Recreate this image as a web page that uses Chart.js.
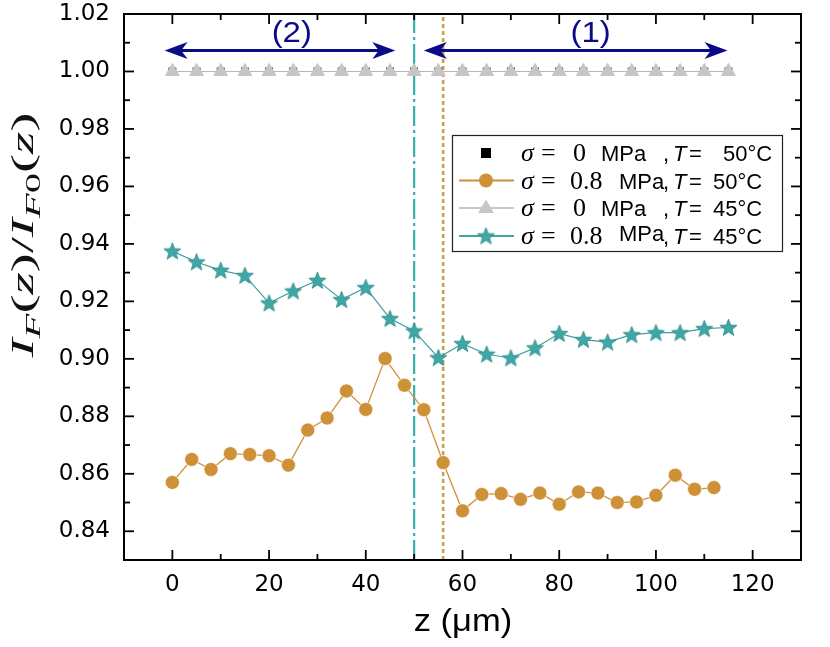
<!DOCTYPE html>
<html>
<head>
<meta charset="utf-8">
<script src="https://cdn.jsdelivr.net/npm/chart.js@4/dist/chart.umd.min.js"></script>
<style>
  html, body { margin: 0; padding: 0; background: #fff; }
</style>
</head>
<body>
<canvas id="chart" width="830" height="647"></canvas>
<script>
// z positions (µm) and intensity ratios
const zCircle = [0, 4, 8, 12, 16, 20, 24, 28, 32, 36, 40, 44, 48, 52, 56, 60, 64, 68, 72, 76, 80, 84, 88, 92, 96, 100, 104, 108, 112];
const ratioCircle = [0.857, 0.865, 0.8615, 0.867, 0.8667, 0.8663, 0.863, 0.8752, 0.8794, 0.8888, 0.8824, 0.9001, 0.8908,
  0.8823, 0.8639, 0.8471, 0.8528, 0.8531, 0.8511, 0.8533, 0.8494, 0.8537, 0.8533, 0.85, 0.8502, 0.8525, 0.8595, 0.8546, 0.8552];

const zStar = [0, 5, 10, 15, 20, 25, 30, 35, 40, 45, 50, 55, 60, 65, 70, 75, 80, 85, 90, 95, 100, 105, 110, 115];
const ratioStar = [0.9375, 0.9337, 0.9308, 0.929, 0.9194, 0.9236, 0.9273, 0.9206, 0.9248, 0.914, 0.9097, 0.9004,
  0.9053, 0.9016, 0.9003, 0.9038, 0.9088, 0.9067, 0.9058, 0.9084, 0.9091, 0.9091, 0.9105, 0.9109];

const zFlat = [0, 5, 10, 15, 20, 25, 30, 35, 40, 45, 50, 55, 60, 65, 70, 75, 80, 85, 90, 95, 100, 105, 110, 115];
const ratioSquare = [1, 1, 1, 1, 1, 1, 1, 1, 1, 1, 1, 1, 1, 1, 1, 1, 1, 1, 1, 1, 1, 1, 1, 1];
const ratioTriangle = [1, 1, 1, 1, 1, 1, 1, 1, 1, 1, 1, 1, 1, 1, 1, 1, 1, 1, 1, 1, 1, 1, 1, 1];

const xTicks = [0, 20, 40, 60, 80, 100, 120];
const xMinor = [10, 30, 50, 70, 90, 110];
const yTicks = [0.84, 0.86, 0.88, 0.90, 0.92, 0.94, 0.96, 0.98, 1.00, 1.02];
const yMinor = [0.85, 0.87, 0.89, 0.91, 0.93, 0.95, 0.97, 0.99, 1.01];

// boundaries and region arrows
const zBoundaryTeal = 50;
const zBoundaryGold = 56;
const arrowStart = [-1.6, 52];
const arrowEnd = [46.1, 114.8];
const arrowLevel = 1.0073;
const regionLabels = ['(2)', '(1)'];
const regionLabelZ = [24.7, 86.5];
const regionLabelLevel = 1.0133;

const legendSigma = ['0', '0.8', '0', '0.8'];
const legendTemp = ['50°C', '50°C', '45°C', '45°C'];

const ORANGE = '#CF9137';
const TEAL = '#3FA7A6';
const GREY = '#C6C6C6';
const NAVY = '#0B0B8A';

function makeStar(size, fill, stroke) {
  const c = document.createElement('canvas');
  c.width = size; c.height = size;
  const g = c.getContext('2d');
  const cx = size / 2, cy = size / 2 + 0.6, R = size / 2 - 0.5, r = R * 0.42;
  g.beginPath();
  for (let i = 0; i < 10; i++) {
    const rad = (i % 2 === 0) ? R : r;
    const ang = -Math.PI / 2 + i * Math.PI / 5;
    g.lineTo(cx + rad * Math.cos(ang), cy + rad * Math.sin(ang));
  }
  g.closePath();
  g.fillStyle = fill; g.fill();
  g.strokeStyle = stroke; g.lineWidth = 0.8; g.stroke();
  return c;
}
const starImg = makeStar(19, TEAL, '#2C8C8C');

function pts(xs, ys) {
  return xs.map((x, i) => ({ x: x, y: ys[i] }));
}

function drawArrow(ctx, x1, x2, y) {
  const L = 23, W = 8.5;
  ctx.strokeStyle = NAVY; ctx.fillStyle = NAVY; ctx.lineWidth = 3;
  ctx.beginPath(); ctx.moveTo(x1 + L * 0.7, y); ctx.lineTo(x2 - L * 0.7, y); ctx.stroke();
  [[x1, 1], [x2, -1]].forEach(([x, d]) => {
    ctx.beginPath();
    ctx.moveTo(x, y);
    ctx.lineTo(x + d * L, y - W);
    ctx.lineTo(x + d * L * 0.72, y);
    ctx.lineTo(x + d * L, y + W);
    ctx.closePath();
    ctx.fill();
  });
}

function drawRuns(ctx, runs, x, y) {
  // runs: [text, font, dy]; draws left to right
  let cx = x;
  runs.forEach(([t, f, dy]) => {
    ctx.font = f;
    ctx.fillText(t, cx, y + (dy || 0));
    cx += ctx.measureText(t).width;
  });
  return cx - x;
}
function runsWidth(ctx, runs) {
  let w = 0;
  runs.forEach(([t, f]) => { ctx.font = f; w += ctx.measureText(t).width; });
  return w;
}

const decor = {
  id: 'decor',
  afterDatasetsDraw(chart) {
    const { ctx, chartArea: a, scales: { x, y } } = chart;
    ctx.save();

    // frame with inward ticks on all sides
    ctx.strokeStyle = '#000';
    ctx.lineWidth = 2;
    ctx.strokeRect(a.left, a.top, a.right - a.left, a.bottom - a.top);
    ctx.lineWidth = 1.8;
    const seg = (x1, y1, x2, y2) => { ctx.beginPath(); ctx.moveTo(x1, y1); ctx.lineTo(x2, y2); ctx.stroke(); };
    xTicks.forEach(v => { const p = x.getPixelForValue(v); seg(p, a.bottom, p, a.bottom - 10); seg(p, a.top, p, a.top + 10); });
    xMinor.forEach(v => { const p = x.getPixelForValue(v); seg(p, a.bottom, p, a.bottom - 6); seg(p, a.top, p, a.top + 6); });
    yTicks.forEach(v => { const p = y.getPixelForValue(v); seg(a.left, p, a.left + 10, p); seg(a.right, p, a.right - 10, p); });
    yMinor.forEach(v => { const p = y.getPixelForValue(v); seg(a.left, p, a.left + 6, p); seg(a.right, p, a.right - 6, p); });

    // region arrows and labels
    const ay = y.getPixelForValue(arrowLevel);
    arrowStart.forEach((s, i) => drawArrow(ctx, x.getPixelForValue(s), x.getPixelForValue(arrowEnd[i]), ay));
    ctx.fillStyle = NAVY;
    ctx.font = '30px "Liberation Sans", Arial, sans-serif';
    ctx.textAlign = 'center';
    ctx.textBaseline = 'middle';
    regionLabels.forEach((t, i) => {
      ctx.save();
      ctx.translate(x.getPixelForValue(regionLabelZ[i]), y.getPixelForValue(regionLabelLevel));
      ctx.scale(1.1, 1);
      ctx.fillText(t, 0, 0);
      ctx.restore();
    });

    // legend
    const lx = 452, ly = 135, lw = 330, lh = 116;
    ctx.fillStyle = '#fff';
    ctx.fillRect(lx, ly, lw, lh);
    ctx.strokeStyle = '#222'; ctx.lineWidth = 1.2;
    ctx.strokeRect(lx + 0.5, ly + 0.5, lw, lh);
    const rowY = [153, 180.5, 208, 236];
    const symX = 486;
    rowY.forEach((ry, i) => {
      if (i === 0) {
        ctx.fillStyle = '#000'; ctx.fillRect(symX - 5, ry - 5, 10, 10);
      } else {
        const col = i === 1 ? ORANGE : (i === 2 ? GREY : TEAL);
        ctx.strokeStyle = col; ctx.lineWidth = 2;
        seg(459, ry, 514, ry);
        if (i === 1) {
          ctx.fillStyle = ORANGE; ctx.beginPath(); ctx.arc(symX, ry, 7, 0, Math.PI * 2); ctx.fill();
        } else if (i === 2) {
          ctx.fillStyle = GREY; ctx.beginPath();
          ctx.moveTo(symX, ry - 8.5); ctx.lineTo(symX + 8, ry + 5); ctx.lineTo(symX - 8, ry + 5); ctx.closePath(); ctx.fill();
        } else {
          ctx.drawImage(starImg, symX - 9.5, ry - 9.5);
        }
      }
      const base = ry + 8;
      ctx.fillStyle = '#000';
      ctx.textAlign = 'left';
      ctx.textBaseline = 'alphabetic';
      ctx.font = 'italic 26px "Liberation Serif", "Times New Roman", serif';
      ctx.fillText('σ', 521, base);
      ctx.font = '26px "Liberation Serif", "Times New Roman", serif';
      ctx.fillText('=', 541, base);
      ctx.fillText(legendSigma[i], legendSigma[i] === '0' ? 573 : 570, base);
      ctx.font = '22px "Liberation Sans", Arial, sans-serif';
      const mpaX = legendSigma[i] === '0' ? 601 : 619;
      ctx.fillText('MPa', mpaX, base - (i === 3 ? 3 : 0));
      ctx.fillText(',', 663, base);
      ctx.font = 'italic 22px "Liberation Sans", Arial, sans-serif';
      ctx.fillText('T', 673, base);
      ctx.font = '22px "Liberation Sans", Arial, sans-serif';
      ctx.fillText('=', 689, base);
      ctx.fillText(legendTemp[i], i === 0 ? 723 : 713, base);
    });

    // x axis title
    ctx.fillStyle = '#000';
    ctx.textAlign = 'center';
    ctx.textBaseline = 'middle';
    ctx.save();
    ctx.translate((a.left + a.right) / 2 + 0.5, 622);
    ctx.scale(1.08, 1);
    ctx.font = '32px "Liberation Sans", Arial, sans-serif';
    ctx.fillText('z (μm)', 0, 0);
    ctx.restore();

    // y axis title
    const big = 'italic 31px "Liberation Serif", "Times New Roman", serif';
    const bigUp = '31px "Liberation Serif", "Times New Roman", serif';
    const sub = 'italic 22px "Liberation Serif", "Times New Roman", serif';
    const subUp = '22px "Liberation Serif", "Times New Roman", serif';
    const runs = [['I', big], ['F', sub, 7], ['(', bigUp], ['z', big], [')', bigUp], ['/', bigUp],
      ['I', big], ['F', sub, 7], ['0', subUp, 7], ['(', bigUp], ['z', big], [')', bigUp]];
    ctx.save();
    ctx.translate(33, 235);
    ctx.rotate(-Math.PI / 2);
    const w = runsWidth(ctx, runs);
    const target = 245;
    ctx.scale(target / w, 1);
    ctx.textAlign = 'left';
    ctx.textBaseline = 'alphabetic';
    ctx.fillStyle = '#111';
    drawRuns(ctx, runs, -w / 2, 0);
    ctx.restore();

    ctx.restore();
  }
};

const tickFont = { family: '"DejaVu Sans", Arial, sans-serif', size: 23 };

new Chart(document.getElementById('chart').getContext('2d'), {
  type: 'line',
  data: {
    datasets: [
      {
        data: pts(zStar, ratioStar),
        borderColor: '#3E9E98', borderWidth: 1.2,
        pointStyle: starImg, pointRadius: 9, pointHoverRadius: 9,
        order: 1
      },
      {
        data: pts(zCircle, ratioCircle),
        borderColor: ORANGE, borderWidth: 1.3,
        pointStyle: 'circle', pointRadius: 7, pointHoverRadius: 7,
        pointBackgroundColor: ORANGE, pointBorderColor: 'rgba(255,255,255,0.6)', pointBorderWidth: 1,
        order: 2
      },
      {
        data: pts(zFlat, ratioTriangle),
        borderColor: '#B4B4B4', borderWidth: 1,
        pointStyle: 'triangle', pointRadius: 8, pointHoverRadius: 8,
        pointBackgroundColor: GREY, pointBorderColor: GREY, pointBorderWidth: 1,
        order: 3
      },
      {
        data: pts(zFlat, ratioSquare),
        showLine: false,
        pointStyle: 'rect', pointRadius: 5.5, pointHoverRadius: 5.5,
        pointBackgroundColor: '#000', pointBorderColor: '#000', pointBorderWidth: 0,
        order: 4
      },
      {
        data: [{ x: zBoundaryTeal, y: 0.83 }, { x: zBoundaryTeal, y: 1.02 }],
        borderColor: '#3AAFB2', borderWidth: 2.2, borderDash: [20, 4, 3, 4],
        pointRadius: 0, order: 5
      },
      {
        data: [{ x: zBoundaryGold, y: 0.83 }, { x: zBoundaryGold, y: 1.02 }],
        borderColor: '#C8A050', borderWidth: 2.6, borderDash: [4, 3],
        pointRadius: 0, order: 6
      }
    ]
  },
  options: {
    responsive: false,
    animation: false,
    layout: { padding: { left: 0, top: 14, right: 29, bottom: 0 } },
    plugins: {
      legend: { display: false },
      tooltip: { enabled: false }
    },
    elements: { line: { tension: 0 } },
    scales: {
      x: {
        type: 'linear', min: -10, max: 130,
        afterBuildTicks: s => { s.ticks = xTicks.map(v => ({ value: v })); },
        afterFit: s => { s.height = 87; s.paddingLeft = 0; s.paddingRight = 0; },
        grid: { display: false, drawTicks: false },
        border: { display: false },
        ticks: { font: tickFont, color: '#000', padding: 11, maxRotation: 0 }
      },
      y: {
        type: 'linear', min: 0.83, max: 1.02,
        afterBuildTicks: s => { s.ticks = yTicks.map(v => ({ value: v })); },
        afterFit: s => { s.width = 124; s.paddingTop = 0; s.paddingBottom = 0; },
        grid: { display: false, drawTicks: false },
        border: { display: false },
        ticks: { font: tickFont, color: '#000', padding: 14, callback: v => v.toFixed(2) }
      }
    }
  },
  plugins: [decor]
});
</script>
</body>
</html>
